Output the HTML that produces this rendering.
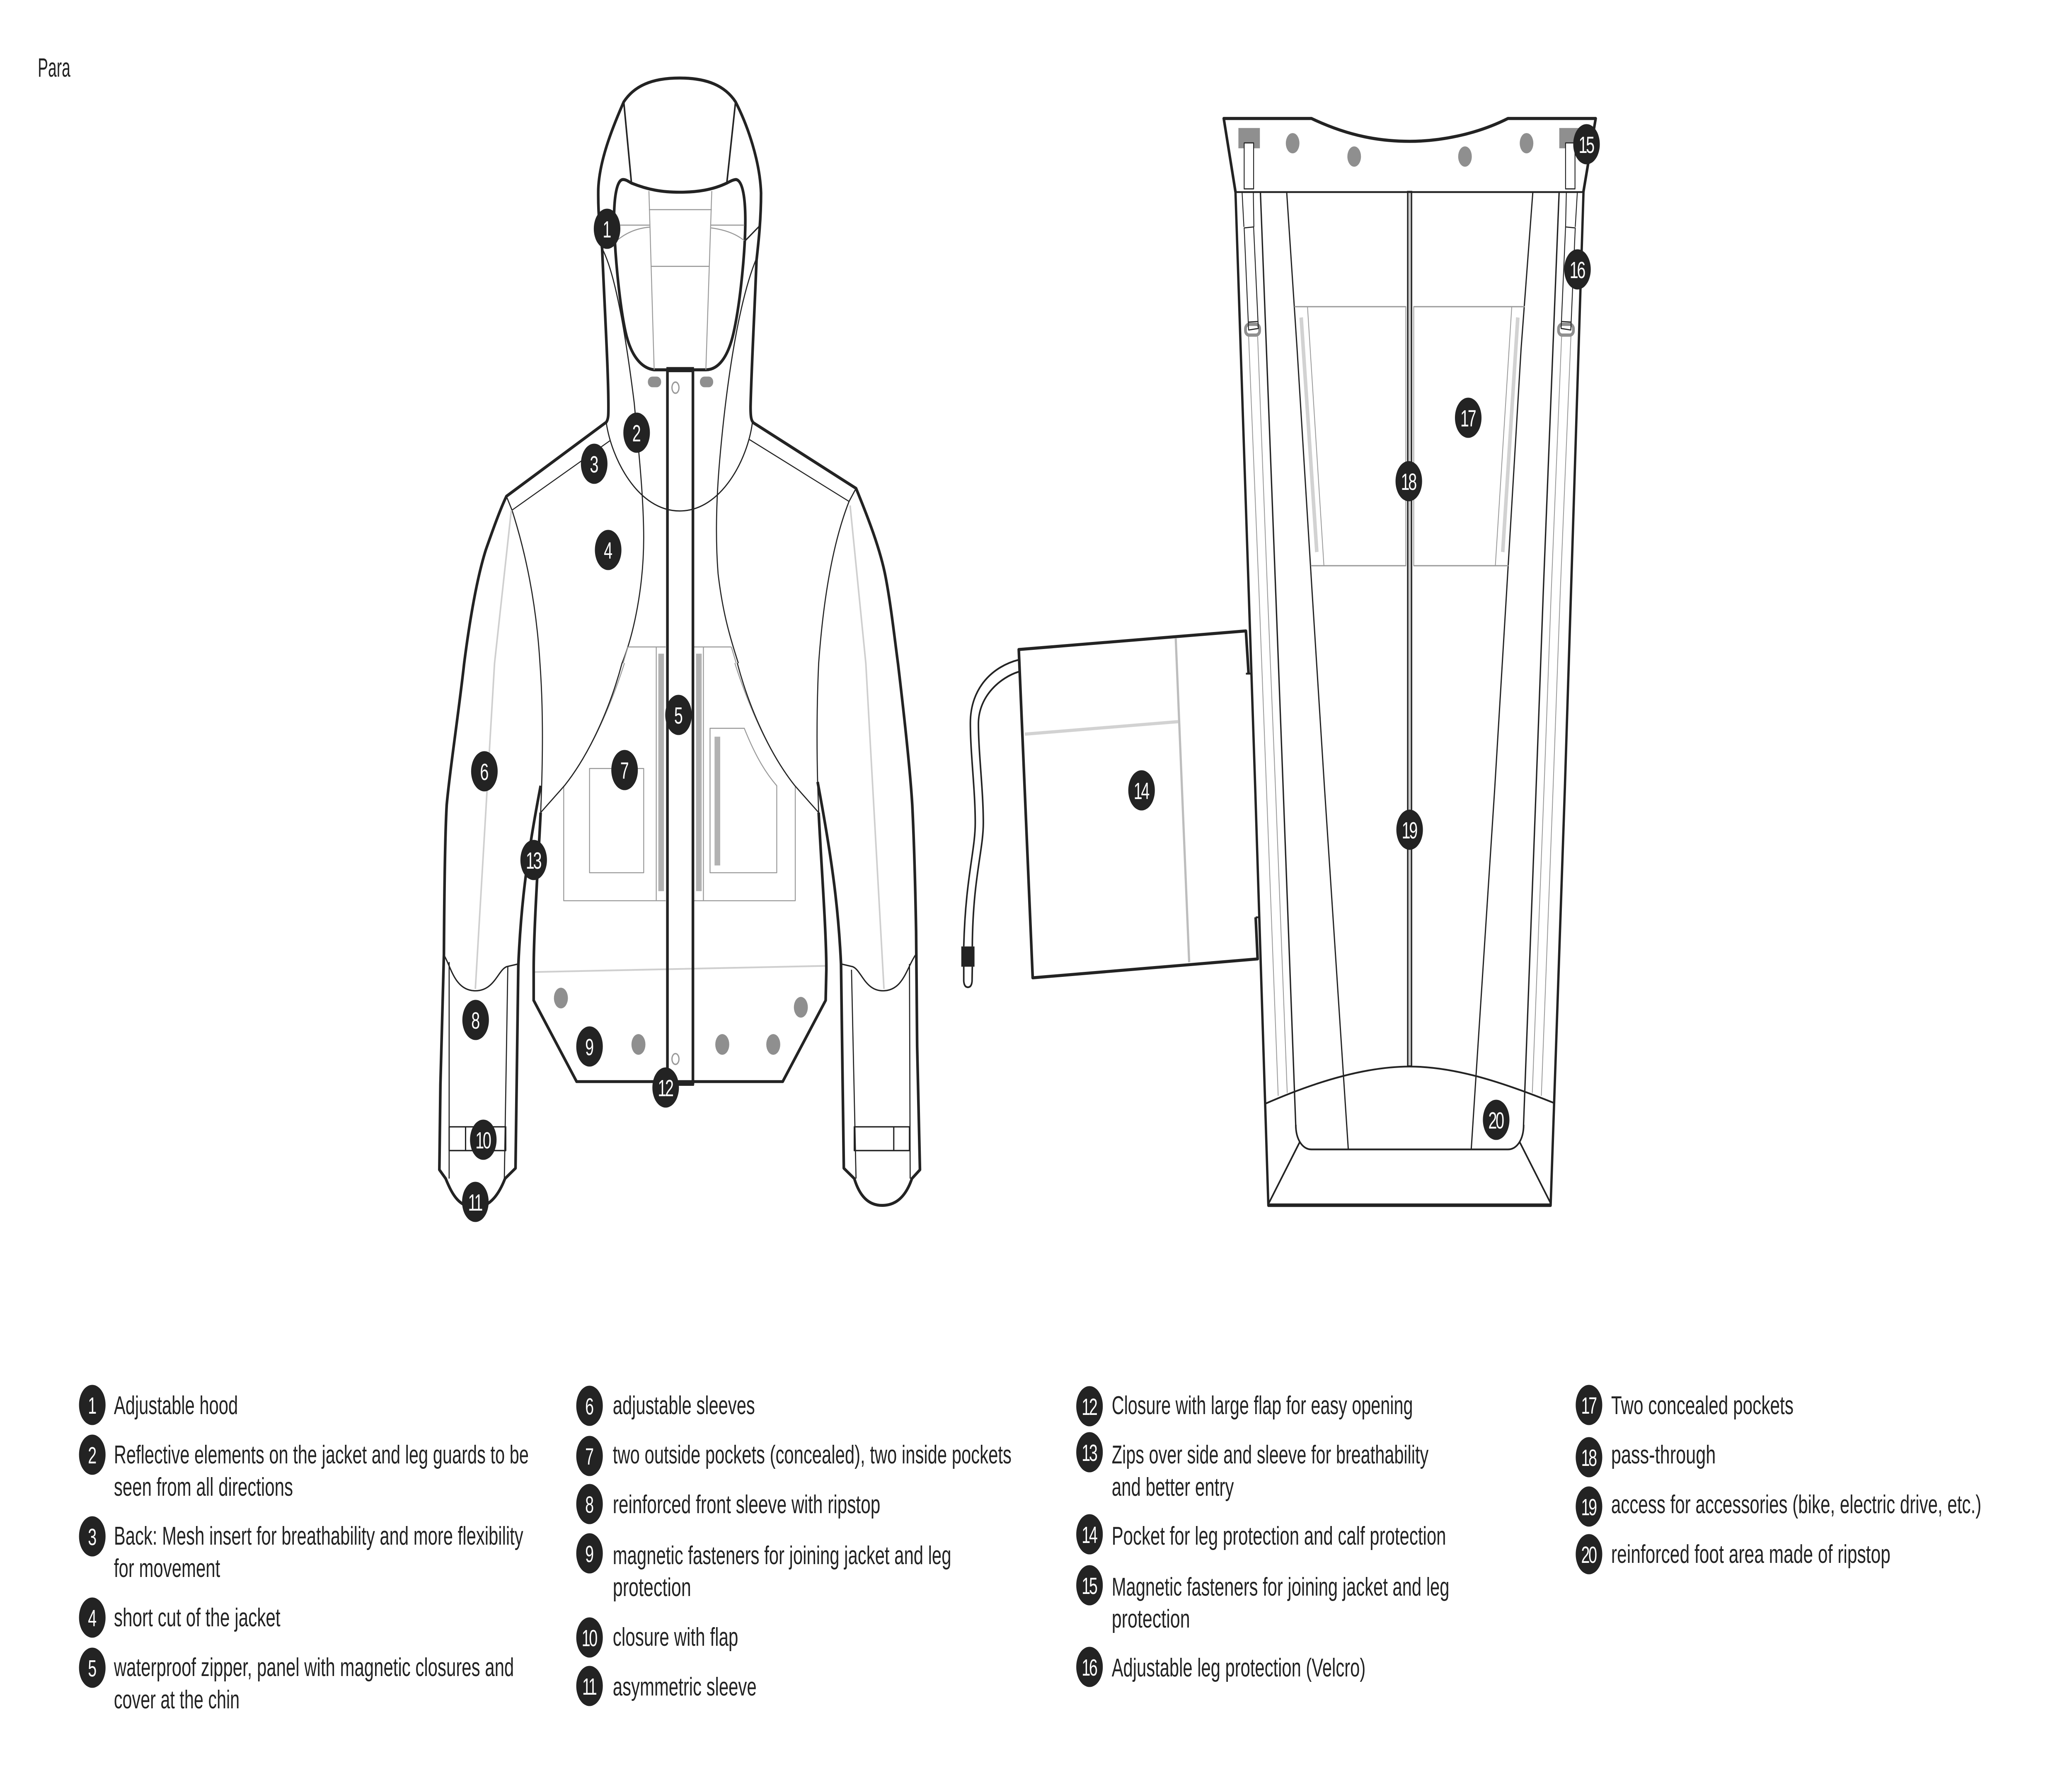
<!DOCTYPE html>
<html lang="en"><head><meta charset="utf-8"><title>Para</title>
<style>
html,body{margin:0;padding:0;background:#fff;width:100%;height:100%;overflow:hidden}
svg{display:block;position:absolute;left:0;top:0;width:100vw;height:100vh}
.k,.m,.t,.g,.l,.h{fill:none;stroke-linejoin:round;stroke-width:calc(var(--w)*var(--s,1))}
.k{stroke:#232323;--w:8.5px}
.m{stroke:#232323;--w:5px}
.t{stroke:#232323;--w:3px}
.g{stroke:#999;--w:3px}
.l{stroke:#cfcfcf;--w:5px}
.h{stroke:#b2b2b2;--w:18px}
.d{fill:#8f8f8f}
text{font-family:"Liberation Sans",sans-serif}
.x{font-size:62px;fill:#222}
.n{font-size:57px;fill:#fff;text-anchor:middle}
.n2{font-size:57px;fill:#fff;text-anchor:middle;letter-spacing:-5px}
.c{fill:#232323}
</style></head><body>
<svg xmlns="http://www.w3.org/2000/svg" viewBox="0 0 7567 4278" preserveAspectRatio="none">
<rect width="7567" height="4278" fill="#fff"/>
<text x="138" y="185" font-size="64" fill="#222" textLength="119" lengthAdjust="spacingAndGlyphs">Para</text>

<!-- jacket upper -->
<g transform="translate(1500,150) scale(1.2755,.9566)" style="--s:.9">
<path class="k" d="M153,1516 C170,1400 190,1300 215,1230 C235,1180 255,1130 274,1095 L560,908 C566,900 566,890 566,870 C566,780 555,620 548,470 C540,420 536,370 537,320 C540,250 575,170 610,100 C640,60 690,40 770,40 C850,40 900,60 930,100 C965,160 1000,250 1003,330 C1003,400 995,460 990,500 C985,620 975,780 973,870 C973,895 975,905 982,910 L1275,1075 C1310,1150 1345,1230 1360,1300 C1375,1370 1385,1450 1395,1516"/>
<path class="k" d="M632,305 C680,322 720,328 770,328 C820,328 865,322 905,305 C918,299 925,296 932,296 C950,300 958,340 958,400 C958,470 945,600 925,680 C905,760 870,776 845,776 L697,776 C660,772 630,740 615,680 C600,620 585,500 582,400 C582,340 590,296 608,296 C616,296 622,300 632,305 Z"/>
<path class="m" d="M610,100 L632,305 M930,100 L905,305"/>
<path class="g" d="M682,325 L697,776 M862,325 L845,776"/>
<path class="g" d="M682,372 H862 M687,515 H855 M600,411 H685 M860,411 H955 M590,450 Q630,420 685,416 M860,418 Q920,425 955,450"/>
<path class="m" d="M958,450 L1000,412" style="--w:4px"/>
<path class="m" style="--w:3.5px" d="M548,470 C590,540 620,720 640,860 C650,960 667,1090 667,1200 C667,1320 640,1440 605,1516"/>
<path class="m" style="--w:3.5px" d="M990,495 C940,600 905,800 885,1000 C875,1100 872,1200 880,1290 C892,1380 910,1440 938,1516"/>
<path class="m" style="--w:3.5px" d="M560,910 C575,1000 650,1132 770,1132 C890,1132 965,1000 978,910"/>
<path class="t" d="M570,955 L290,1130 M970,952 L1255,1108"/>
<path class="m" style="--w:3.5px" d="M274,1095 L290,1130 C330,1240 360,1370 370,1516 M1275,1075 L1255,1108 C1205,1220 1180,1370 1168,1516"/>
<path class="l" d="M288,1130 L240,1516 M1258,1118 L1303,1516"/>
<rect class="d" x="679" y="793" width="38" height="27" rx="13"/>
<rect class="d" x="828" y="793" width="38" height="27" rx="13"/>
<ellipse class="g" style="--w:4px" cx="758" cy="821" rx="10" ry="14"/>
<path class="g" d="M622,1475 H730 M810,1475 H918 M703,1475 V1516 M838,1475 V1516 M622,1475 L608,1516 M918,1475 L932,1516"/>
<path class="h" d="M717,1492 V1516 M825,1492 V1516"/>
<path class="k" d="M735,775 V1516 M808,775 V1516"/>
<rect class="c" x="732" y="769" width="79" height="13"/>
</g>

<!-- jacket lower -->
<g transform="translate(1500,1600) scale(1.2755,.9247)" style="--s:.9">
<path class="g" d="M703,0 V620 M838,0 V620 M438,320 V620 H730 M810,620 H1101 V320"/>
<path class="g" d="M612,0 C570,120 510,240 440,320 M928,0 C970,120 1030,240 1100,320"/>
<path class="h" d="M717,0 V595 M825,0 V595 M878,192 V528"/>
<rect class="g" x="512" y="275" width="155" height="272"/>
<path class="g" d="M857,170 H955 C990,250 1020,290 1048,320 V547 H857 Z"/>
<path class="l" d="M240,0 L185,850 M1303,0 L1355,850 M355,806 L1188,790"/>
<path class="k" d="M153,0 C140,110 112,280 103,370 C98,450 96,600 95,760 L85,1100 L82,1322 L100,1345 C120,1390 140,1420 185,1420 C230,1420 255,1380 270,1345 L300,1318 L308,790 C315,640 330,520 372,320"/>
<path class="k" d="M1395,0 C1412,130 1430,280 1436,370 C1442,480 1445,600 1447,700 L1450,1000 L1458,1322 L1435,1345 C1420,1385 1395,1415 1350,1415 C1310,1415 1285,1390 1270,1345 L1240,1318 L1232,785 C1225,650 1210,530 1165,310"/>
<path class="m" style="--w:3.5px" d="M370,0 C378,100 380,220 372,390 M1168,0 C1163,100 1162,200 1165,310 L1168,390"/>
<path class="m" style="--w:3.5px" d="M605,0 C570,120 510,240 440,320 L372,390 M935,0 C970,120 1030,240 1100,320 L1168,390"/>
<path class="k" d="M372,390 C365,520 352,700 352,800 V880 L475,1092 H1065 L1188,880 L1190,800 C1190,700 1175,520 1168,390"/>
<path class="k" d="M735,0 V1092 M808,0 V1100"/>
<rect class="c" x="735" y="1090" width="76" height="13"/>
<path class="m" style="--w:4px" d="M95,762 C115,790 125,855 185,855 C240,855 250,800 275,792 L308,785"/>
<path class="m" style="--w:4px" d="M1445,762 C1420,795 1410,855 1352,855 C1300,855 1290,800 1265,792 L1232,785"/>
<path class="t" d="M110,780 V1345 M278,792 L268,1345 M1262,800 L1275,1345 M1428,785 L1430,1345" style="--w:3.5px"/>
<rect class="m" x="110" y="1210" width="162" height="62" style="--w:4px"/>
<path class="m" style="--w:4px" d="M157,1210 V1272"/>
<rect class="m" x="1270" y="1210" width="158" height="62" style="--w:4px"/>
<path class="m" style="--w:4px" d="M1383,1210 V1272"/>
<ellipse class="d" cx="430" cy="874" rx="20" ry="27"/>
<ellipse class="d" cx="652" cy="995" rx="20" ry="27"/>
<ellipse class="d" cx="892" cy="995" rx="20" ry="27"/>
<ellipse class="d" cx="1038" cy="995" rx="20" ry="27"/>
<ellipse class="d" cx="1117" cy="898" rx="20" ry="27"/>
<ellipse class="g" style="--w:4px" cx="758" cy="1033" rx="10" ry="14"/>
</g>

<!-- leg guard: native coords -->
<path class="g" d="M4560,812 L4598,1430 L4625,1900 L4668,2644 M4593,812 L4629,1430 L4658,1900 L4701,2637 M5737,812 L5698,1430 L5672,1900 L5629,2644 M5703,812 L5665,1430 L5639,1900 L5596,2637"/>
<path class="k" d="M4512,463 L4584,1900 L4632,2908 H5663 L5715,1900 L5783,463"/>
<path class="m" d="M4603,463 L4659,1430 L4686,1900 L4732,2714 M5694,463 L5636,1430 L5610,1900 L5564,2714"/>
<path class="m" style="--w:4.5px" d="M4699,463 L4737,842 L4792,1430 L4837,1900 L4924,2773 M5598,463 L5555,842 L5502,1430 L5459,1900 L5373,2773"/>
<path class="g" d="M4727,740 H5134 V1365 H4787 M5569,740 H5163 V1365 H5509 M4775,740 L4835,1365 M5521,740 L5461,1365"/>
<path class="l" style="stroke:#d2d2d2;--w:13px" d="M4752,766 L4809,1332 M5543,766 L5488,1332"/>
<rect x="5141" y="463" width="14" height="2110" fill="#ccc" stroke="#232323" stroke-width="5"/>

<g transform="translate(4450,230) scale(.9566,.7653)" style="--s:1.16">
<path class="k" d="M65,305 L20,73 H355 C500,130 620,145 730,145 C840,145 980,125 1105,73 H1440 L1393,305"/>
<path class="m" d="M65,305 H1393"/>
<rect class="d" x="76" y="103" width="82" height="64"/>
<rect class="d" x="1301" y="103" width="82" height="64"/>
<rect class="t" x="98" y="150" width="36" height="145" style="fill:#fff"/>
<rect class="t" x="1325" y="150" width="36" height="145" style="fill:#fff"/>
<ellipse class="d" cx="283" cy="151" rx="26" ry="32"/>
<ellipse class="d" cx="518" cy="193" rx="26" ry="32"/>
<ellipse class="d" cx="941" cy="193" rx="26" ry="32"/>
<ellipse class="d" cx="1176" cy="151" rx="26" ry="32"/>
<path class="t" d="M90,305 L97,415 M133,305 L135,415 M1328,305 L1325,415 M1370,305 L1362,415"/>
<rect class="g" style="stroke:#8f8f8f;--w:9px" x="103" y="722" width="54" height="34" rx="14"/>
<rect class="g" style="stroke:#8f8f8f;--w:9px" x="1298" y="722" width="57" height="34" rx="14"/>
<path class="t" d="M98,418 L134,415 L152,735 L115,740 Z M113,715 L150,713 M1325,415 L1362,418 L1345,740 L1308,735 Z M1310,713 L1347,715"/>
</g>

<g transform="translate(4450,1900) scale(.9566,.7015)" style="--s:1.2">
<path class="m" d="M295,1160 C295,1210 320,1245 355,1245 H1105 C1140,1245 1165,1210 1165,1160"/>
<path class="m" d="M178,1088 C350,1020 550,960 730,960 C910,960 1100,1020 1280,1085 M310,1220 L192,1430 M1150,1220 L1268,1430"/>
</g>

<!-- pocket and cord -->
<g transform="translate(3450,1450) scale(.8929,.6696)" style="--s:1.28">
<path class="m" d="M303,212 C200,235 105,310 105,440 C105,550 125,680 125,800 C125,900 85,1000 78,1245 M303,255 C230,275 140,340 138,440 C138,550 158,680 158,800 C158,900 115,1000 113,1245"/>
<rect class="c" x="68" y="1245" width="54" height="73"/>
<path class="m" d="M78,1318 V1370 Q80,1392 95,1392 Q110,1392 112,1370 L113,1318"/>
<path class="l" style="stroke:#bdbdbd;--w:7px" d="M945,135 L1000,1302"/>
<path class="l" style="stroke:#d2d2d2;--w:9px" d="M328,480 L955,435"/>
<path class="k" d="M1243,262 L1232,108 L303,175 L360,1358 L1280,1290 L1272,1140"/>
<path class="m" d="M1232,262 H1250 M1272,1140 H1284"/>
</g>

<!-- diagram callouts -->
<g>
<circle class="c" cx="2217" cy="552" r="48.5"/><text class="n" x="2217" y="573">1</text>
<circle class="c" cx="2325" cy="1044" r="48.5"/><text class="n" x="2325" y="1065">2</text>
<circle class="c" cx="2170" cy="1119" r="48.5"/><text class="n" x="2170" y="1140">3</text>
<circle class="c" cx="2221" cy="1327" r="48.5"/><text class="n" x="2221" y="1348">4</text>
<circle class="c" cx="2478" cy="1725" r="48.5"/><text class="n" x="2478" y="1746">5</text>
<circle class="c" cx="1769" cy="1861" r="48.5"/><text class="n" x="1769" y="1882">6</text>
<circle class="c" cx="2281" cy="1858" r="48.5"/><text class="n" x="2281" y="1879">7</text>
<circle class="c" cx="1737" cy="2461" r="48.5"/><text class="n" x="1737" y="2482">8</text>
<circle class="c" cx="2153" cy="2525" r="48.5"/><text class="n" x="2153" y="2546">9</text>
<circle class="c" cx="1765" cy="2750" r="48.5"/><text class="n2" x="1763" y="2771">10</text>
<circle class="c" cx="1736" cy="2900" r="48.5"/><text class="n2" x="1734" y="2921">11</text>
<circle class="c" cx="2431" cy="2624" r="48.5"/><text class="n2" x="2429" y="2645">12</text>
<circle class="c" cx="1949" cy="2075" r="48.5"/><text class="n2" x="1947" y="2096">13</text>
<circle class="c" cx="4169" cy="1907" r="48.5"/><text class="n2" x="4167" y="1928">14</text>
<circle class="c" cx="5794" cy="348" r="48.5"/><text class="n2" x="5792" y="369">15</text>
<circle class="c" cx="5761" cy="650" r="48.5"/><text class="n2" x="5759" y="671">16</text>
<circle class="c" cx="5362" cy="1008" r="48.5"/><text class="n2" x="5360" y="1029">17</text>
<circle class="c" cx="5145" cy="1161" r="48.5"/><text class="n2" x="5143" y="1182">18</text>
<circle class="c" cx="5148" cy="2002" r="48.5"/><text class="n2" x="5146" y="2023">19</text>
<circle class="c" cx="5464" cy="2702" r="48.5"/><text class="n2" x="5462" y="2723">20</text>
</g>

<!-- legend column 1 -->
<g>
<circle class="c" cx="337" cy="3390" r="48.5"/><text class="n" x="337" y="3411">1</text>
<circle class="c" cx="337" cy="3510" r="48.5"/><text class="n" x="337" y="3531">2</text>
<circle class="c" cx="337" cy="3707" r="48.5"/><text class="n" x="337" y="3728">3</text>
<circle class="c" cx="337" cy="3903" r="48.5"/><text class="n" x="337" y="3924">4</text>
<circle class="c" cx="337" cy="4024" r="48.5"/><text class="n" x="337" y="4045">5</text>
<text class="x" x="416" y="3412" textLength="453" lengthAdjust="spacingAndGlyphs">Adjustable hood</text>
<text class="x" x="416" y="3531" textLength="1515" lengthAdjust="spacingAndGlyphs">Reflective elements on the jacket and leg guards to be</text>
<text class="x" x="416" y="3609" textLength="654" lengthAdjust="spacingAndGlyphs">seen from all directions</text>
<text class="x" x="416" y="3727" textLength="1495" lengthAdjust="spacingAndGlyphs">Back: Mesh insert for breathability and more flexibility</text>
<text class="x" x="416" y="3805" textLength="388" lengthAdjust="spacingAndGlyphs">for movement</text>
<text class="x" x="416" y="3924" textLength="608" lengthAdjust="spacingAndGlyphs">short cut of the jacket</text>
<text class="x" x="416" y="4044" textLength="1461" lengthAdjust="spacingAndGlyphs">waterproof zipper, panel with magnetic closures and</text>
<text class="x" x="416" y="4122" textLength="459" lengthAdjust="spacingAndGlyphs">cover at the chin</text>
</g>
<!-- legend column 2 -->
<g>
<circle class="c" cx="2153" cy="3392" r="48.5"/><text class="n" x="2153" y="3413">6</text>
<circle class="c" cx="2153" cy="3513" r="48.5"/><text class="n" x="2153" y="3534">7</text>
<circle class="c" cx="2153" cy="3629" r="48.5"/><text class="n" x="2153" y="3650">8</text>
<circle class="c" cx="2153" cy="3748" r="48.5"/><text class="n" x="2153" y="3769">9</text>
<circle class="c" cx="2153" cy="3951" r="48.5"/><text class="n2" x="2151" y="3972">10</text>
<circle class="c" cx="2153" cy="4068" r="48.5"/><text class="n2" x="2151" y="4089">11</text>
<text class="x" x="2238" y="3412" textLength="519" lengthAdjust="spacingAndGlyphs">adjustable sleeves</text>
<text class="x" x="2238" y="3531" textLength="1456" lengthAdjust="spacingAndGlyphs">two outside pockets (concealed), two inside pockets</text>
<text class="x" x="2238" y="3651" textLength="977" lengthAdjust="spacingAndGlyphs">reinforced front sleeve with ripstop</text>
<text class="x" x="2238" y="3774" textLength="1236" lengthAdjust="spacingAndGlyphs">magnetic fasteners for joining jacket and leg</text>
<text class="x" x="2238" y="3851" textLength="286" lengthAdjust="spacingAndGlyphs">protection</text>
<text class="x" x="2238" y="3971" textLength="458" lengthAdjust="spacingAndGlyphs">closure with flap</text>
<text class="x" x="2238" y="4091" textLength="525" lengthAdjust="spacingAndGlyphs">asymmetric sleeve</text>
</g>
<!-- legend column 3 -->
<g>
<circle class="c" cx="3979" cy="3393" r="48.5"/><text class="n2" x="3977" y="3414">12</text>
<circle class="c" cx="3979" cy="3504" r="48.5"/><text class="n2" x="3977" y="3525">13</text>
<circle class="c" cx="3979" cy="3702" r="48.5"/><text class="n2" x="3977" y="3723">14</text>
<circle class="c" cx="3979" cy="3825" r="48.5"/><text class="n2" x="3977" y="3846">15</text>
<circle class="c" cx="3979" cy="4022" r="48.5"/><text class="n2" x="3977" y="4043">16</text>
<text class="x" x="4060" y="3412" textLength="1100" lengthAdjust="spacingAndGlyphs">Closure with large flap for easy opening</text>
<text class="x" x="4060" y="3531" textLength="1157" lengthAdjust="spacingAndGlyphs">Zips over side and sleeve for breathability</text>
<text class="x" x="4060" y="3609" textLength="446" lengthAdjust="spacingAndGlyphs">and better entry</text>
<text class="x" x="4060" y="3727" textLength="1221" lengthAdjust="spacingAndGlyphs">Pocket for leg protection and calf protection</text>
<text class="x" x="4060" y="3850" textLength="1233" lengthAdjust="spacingAndGlyphs">Magnetic fasteners for joining jacket and leg</text>
<text class="x" x="4060" y="3927" textLength="286" lengthAdjust="spacingAndGlyphs">protection</text>
<text class="x" x="4060" y="4045" textLength="927" lengthAdjust="spacingAndGlyphs">Adjustable leg protection (Velcro)</text>
</g>
<!-- legend column 4 -->
<g>
<circle class="c" cx="5803" cy="3390" r="48.5"/><text class="n2" x="5801" y="3411">17</text>
<circle class="c" cx="5803" cy="3516" r="48.5"/><text class="n2" x="5801" y="3537">18</text>
<circle class="c" cx="5803" cy="3635" r="48.5"/><text class="n2" x="5801" y="3656">19</text>
<circle class="c" cx="5803" cy="3750" r="48.5"/><text class="n2" x="5801" y="3771">20</text>
<text class="x" x="5884" y="3412" textLength="666" lengthAdjust="spacingAndGlyphs">Two concealed pockets</text>
<text class="x" x="5884" y="3531" textLength="382" lengthAdjust="spacingAndGlyphs">pass-through</text>
<text class="x" x="5884" y="3651" textLength="1352" lengthAdjust="spacingAndGlyphs">access for accessories (bike, electric drive, etc.)</text>
<text class="x" x="5884" y="3771" textLength="1020" lengthAdjust="spacingAndGlyphs">reinforced foot area made of ripstop</text>
</g>
</svg>
</body></html>
